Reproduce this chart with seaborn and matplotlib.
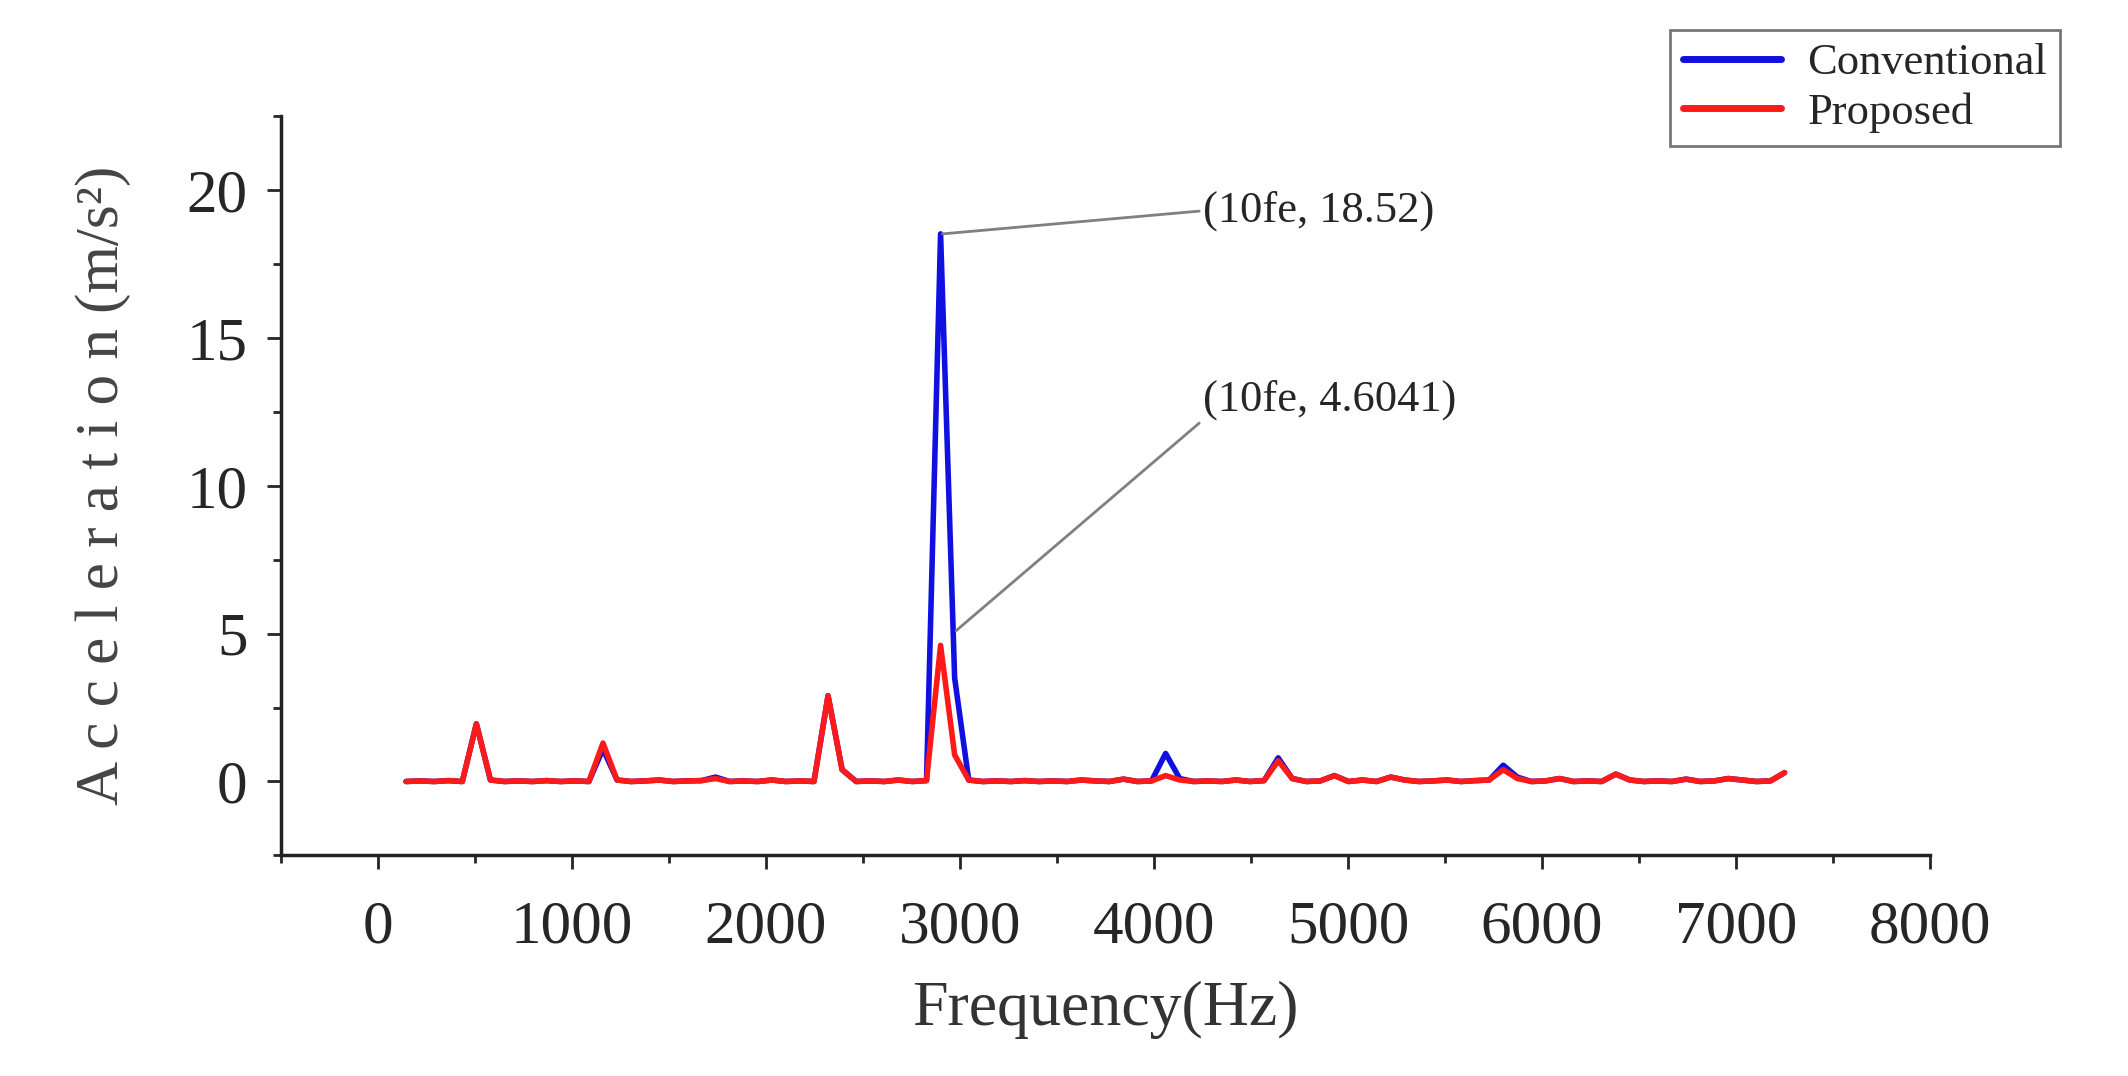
import numpy as np
import matplotlib.pyplot as plt
import seaborn as sn
from matplotlib.ticker import MultipleLocator

sn.set_style('ticks')
plt.rcParams['font.family'] = ['Liberation Serif', 'DejaVu Serif']

# frequency bins, step fe/4 = 72.5 Hz (145 .. 7250 Hz)
freq = [72.5 * k for k in range(2, 101)]
conventional = [
    0.0, 0.02, 0.0, 0.03, 0.0, 1.95, 0.05,          # k=2..8 (580 Hz peak)
    0.0, 0.02, 0.0, 0.03, 0.0, 0.02, 0.0, 1.1,      # ..16 (1160)
    0.05, 0.0, 0.02, 0.05, 0.0, 0.02, 0.03, 0.15,   # ..24 (1740)
    0.0, 0.02, 0.0, 0.05, 0.0, 0.02, 0.0, 2.9,      # ..32 (2320)
    0.4, 0.0, 0.02, 0.0, 0.05, 0.0, 0.03, 18.52,    # ..40 (2900)
    3.5, 0.05, 0.0, 0.02, 0.0, 0.03, 0.0, 0.02,     # ..48
    0.0, 0.05, 0.02, 0.0, 0.08, 0.0, 0.02, 0.95,    # ..56 (4060)
    0.1, 0.0, 0.02, 0.0, 0.05, 0.0, 0.03, 0.8,      # ..64 (4640)
    0.1, 0.0, 0.02, 0.2, 0.0, 0.05, 0.0, 0.15,      # ..72
    0.05, 0.0, 0.02, 0.05, 0.0, 0.03, 0.05, 0.55,   # ..80 (5800)
    0.15, 0.0, 0.02, 0.1, 0.0, 0.02, 0.0, 0.25,     # ..88 (6380)
    0.05, 0.0, 0.02, 0.0, 0.08, 0.0, 0.02, 0.1,     # ..96
    0.05, 0.0, 0.02, 0.3]                            # ..100
proposed = [
    0.0, 0.02, 0.0, 0.03, 0.0, 1.95, 0.05,
    0.0, 0.02, 0.0, 0.03, 0.0, 0.02, 0.0, 1.3,
    0.05, 0.0, 0.02, 0.05, 0.0, 0.02, 0.03, 0.1,
    0.0, 0.02, 0.0, 0.05, 0.0, 0.02, 0.0, 2.9,
    0.4, 0.0, 0.02, 0.0, 0.05, 0.0, 0.03, 4.6041,
    0.9, 0.05, 0.0, 0.02, 0.0, 0.03, 0.0, 0.02,
    0.0, 0.05, 0.02, 0.0, 0.08, 0.0, 0.02, 0.2,
    0.05, 0.0, 0.02, 0.0, 0.05, 0.0, 0.03, 0.7,
    0.1, 0.0, 0.02, 0.2, 0.0, 0.05, 0.0, 0.15,
    0.05, 0.0, 0.02, 0.05, 0.0, 0.03, 0.05, 0.4,
    0.1, 0.0, 0.02, 0.1, 0.0, 0.02, 0.0, 0.25,
    0.05, 0.0, 0.02, 0.0, 0.08, 0.0, 0.02, 0.1,
    0.05, 0.0, 0.02, 0.3]

fig = plt.figure(figsize=(21.28, 10.76), dpi=100)
ax = fig.add_axes([0.132, 0.205, 0.775, 0.687])
sn.lineplot(x=freq, y=conventional, color='#1010e0', lw=4, label='Conventional', ax=ax)
sn.lineplot(x=freq, y=proposed, color='#ff1a1a', lw=4, label='Proposed', ax=ax)

ax.set_xlim(-500, 8000)
ax.set_ylim(-2.5, 22.5)
ax.xaxis.set_major_locator(MultipleLocator(1000))
ax.xaxis.set_minor_locator(MultipleLocator(500))
ax.yaxis.set_major_locator(MultipleLocator(5))
ax.yaxis.set_minor_locator(MultipleLocator(2.5))
ax.tick_params(which='major', length=10, width=2, labelsize=44, direction='out')
ax.tick_params(axis='x', which='major', pad=22)
ax.tick_params(axis='y', which='major', pad=14)
ax.tick_params(which='minor', length=6, width=2)
for s in ['left', 'bottom']:
    ax.spines[s].set_linewidth(2.5)
    ax.spines[s].set_color('#222222')
ax.spines['top'].set_visible(False)
ax.spines['right'].set_visible(False)
ax.set_xlabel('Frequency(Hz)', fontsize=46, color='#333333', labelpad=18)
ax.set_ylabel('A c c e l e r a t i o n (m/s²)', fontsize=44, color='#444444', labelpad=40)

ax.annotate('(10fe, 18.52)', xy=(2910, 18.52), xytext=(4250, 19.3), fontsize=32,
            va='center', arrowprops=dict(arrowstyle='-', color='gray', lw=2,
                                         relpos=(0, 0.5), shrinkA=0, shrinkB=0))
ax.annotate('(10fe, 4.6041)', xy=(2980, 5.1), xytext=(4250, 12.9), fontsize=32,
            va='center', arrowprops=dict(arrowstyle='-', color='gray', lw=2,
                                         relpos=(0, 0), shrinkA=0, shrinkB=0))

leg = ax.legend(loc='upper right', bbox_to_anchor=(1.079, 1.117), fontsize=32,
                frameon=True, fancybox=False, edgecolor='#555555',
                handlelength=2.2, borderpad=0.3, labelspacing=0.2,
                handletextpad=0.6, borderaxespad=0)
leg.get_frame().set_linewidth(2)
for l in leg.get_lines():
    l.set_linewidth(5)

plt.savefig('out.png', dpi=100)
